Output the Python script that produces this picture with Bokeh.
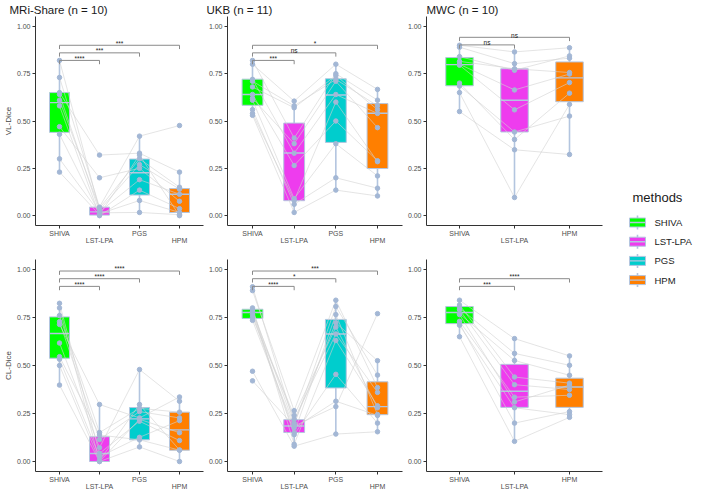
from bokeh.plotting import figure
from bokeh.layouts import row, column
from bokeh.models import Range1d, FixedTicker, LinearAxis, NumeralTickFormatter
from bokeh.core.properties import value
from bokeh.embed import file_html
from bokeh.resources import INLINE

# ---------------- data ----------------
methods = ["SHIVA", "LST-LPA", "PGS", "HPM"]
method_colors = ["#00FF00", "#EE3CEE", "#00CDCD", "#FF7F00"]
methods_mwc = ["SHIVA", "LST-LPA", "HPM"]

panel_titles = ["MRi-Share (n = 10)", "UKB (n = 11)", "MWC (n = 10)"]
row_labels = ["VL-Dice", "CL-Dice"]
legend_title = "methods"
y_ticks = [0.0, 0.25, 0.5, 0.75, 1.0]

# MRi-Share, VL-Dice (one value per subject, same order in every list)
mri_vl_shiva = [0.82, 0.73, 0.65, 0.64, 0.61, 0.58, 0.47, 0.43, 0.30, 0.23]
mri_vl_lst = [0.03, 0.045, 0.32, 0.02, 0.04, 0.0, 0.20, 0.01, 0.015, 0.005]
mri_vl_pgs = [0.27, 0.42, 0.33, 0.19, 0.30, 0.135, 0.25, 0.08, 0.017, 0.32]
mri_vl_hpm = [0.14, 0.476, 0.23, 0.113, 0.15, 0.037, 0.076, 0.017, 0.005, 0.0]
# box stats: [lower whisker, q1, median, q3, upper whisker]
mri_vl_box = [[0.23, 0.44, 0.597, 0.65, 0.82], [0.0, 0.003, 0.02, 0.045, 0.045],
              [0.017, 0.109, 0.227, 0.299, 0.42], [0.0, 0.017, 0.113, 0.143, 0.23]]
mri_vl_sig = ["****", "***", "***"]

# UKB, VL-Dice
ukb_vl_shiva = [0.82, 0.80, 0.72, 0.71, 0.68, 0.64, 0.62, 0.61, 0.56, 0.54, 0.53]
ukb_vl_lst = [0.41, 0.605, 0.33, 0.58, 0.57, 0.265, 0.38, 0.09, 0.06, 0.08, 0.017]
ukb_vl_pgs = [0.75, 0.80, 0.64, 0.72, 0.74, 0.50, 0.71, 0.38, 0.20, 0.60, 0.135]
ukb_vl_hpm = [0.61, 0.667, 0.54, 0.58, 0.56, 0.29, 0.465, 0.21, 0.145, 0.285, 0.104]
ukb_vl_box = [[0.53, 0.583, 0.64, 0.721, 0.82], [0.017, 0.079, 0.331, 0.489, 0.605],
              [0.135, 0.387, 0.637, 0.723, 0.80], [0.104, 0.249, 0.541, 0.592, 0.667]]
ukb_vl_sig = ["***", "ns", "*"]

# MWC, VL-Dice
mwc_vl_shiva = [0.90, 0.89, 0.84, 0.815, 0.80, 0.795, 0.70, 0.685, 0.65, 0.55]
mwc_vl_lst = [0.865, 0.803, 0.768, 0.776, 0.664, 0.559, 0.402, 0.442, 0.096, 0.348]
mwc_vl_hpm = [0.887, 0.832, 0.844, 0.756, 0.748, 0.703, 0.647, 0.526, 0.588, 0.323]
mwc_vl_box = [[0.55, 0.686, 0.798, 0.835, 0.90], [0.096, 0.442, 0.61, 0.776, 0.865],
              [0.323, 0.602, 0.728, 0.812, 0.887]]
mwc_vl_sig = ["ns", "ns"]

# MRi-Share, CL-Dice
mri_cl_shiva = [0.824, 0.80, 0.76, 0.728, 0.714, 0.617, 0.546, 0.533, 0.50, 0.398]
mri_cl_lst = [0.042, 0.0, 0.151, 0.114, 0.297, 0.072, 0.138, 0.025, 0.005, 0.0]
mri_cl_pgs = [0.21, 0.076, 0.277, 0.26, 0.227, 0.479, 0.113, 0.126, 0.297, 0.22]
mri_cl_hpm = [0.109, 0.0, 0.257, 0.227, 0.336, 0.314, 0.059, 0.213, 0.06, 0.15]
mri_cl_box = [[0.398, 0.538, 0.667, 0.753, 0.824], [0.0, 0.0, 0.042, 0.129, 0.297],
              [0.076, 0.113, 0.222, 0.281, 0.479], [0.0, 0.059, 0.165, 0.257, 0.336]]
mri_cl_sig = ["****", "****", "****"]

# UKB, CL-Dice
ukb_cl_shiva = [0.91, 0.89, 0.80, 0.79, 0.78, 0.775, 0.765, 0.75, 0.735, 0.47, 0.42]
ukb_cl_lst = [0.20, 0.265, 0.09, 0.19, 0.22, 0.15, 0.14, 0.24, 0.175, 0.08, 0.185]
ukb_cl_pgs = [0.723, 0.84, 0.63, 0.807, 0.664, 0.765, 0.454, 0.70, 0.314, 0.143, 0.286]
ukb_cl_hpm = [0.525, 0.385, 0.29, 0.45, 0.36, 0.245, 0.2, 0.28, 0.24, 0.155, 0.77]
ukb_cl_box = [[0.735, 0.745, 0.776, 0.793, 0.80], [0.079, 0.151, 0.185, 0.218, 0.264],
              [0.143, 0.383, 0.664, 0.74, 0.84], [0.155, 0.244, 0.286, 0.415, 0.524]]
ukb_cl_sig = ["****", "*", "***"]

# MWC, CL-Dice
mwc_cl_shiva = [0.84, 0.815, 0.80, 0.79, 0.77, 0.765, 0.73, 0.72, 0.71, 0.65]
mwc_cl_lst = [0.64, 0.44, 0.563, 0.40, 0.526, 0.31, 0.335, 0.20, 0.28, 0.105]
mwc_cl_hpm = [0.55, 0.408, 0.501, 0.375, 0.449, 0.398, 0.345, 0.26, 0.244, 0.23]
mwc_cl_box = [[0.652, 0.718, 0.776, 0.807, 0.84], [0.104, 0.282, 0.366, 0.506, 0.644],
              [0.23, 0.282, 0.388, 0.434, 0.551]]
mwc_cl_sig = ["***", "****"]

# ---------------- style / layout ----------------
FONT = "Liberation Sans"
POINT_COLOR = "#A3B7D5"
BOX_LINE = "#B3C5DF"
PAIR_LINE = "#D2D2D2"
BRACKET = "#8A8A8A"
AXIS_COLOR = "#333333"
TICK_TEXT = "#4D4D4D"
ROW_H = 246
BOX_W = 0.5
BRACKET_STEP = 0.04
TIP = 0.02


def make_panel(title, ylabel, names, series, boxes, sigs, bracket_base,
               width, left, title_offset):
    n_m = len(names)
    xs = list(range(1, n_m + 1))
    colors = [method_colors[methods.index(m)] for m in names]
    p = figure(width=width, height=ROW_H, title=title,
               x_range=Range1d(0.4, n_m + 0.6), y_range=Range1d(-0.052, 1.052),
               output_backend="svg", toolbar_location=None,
               min_border_left=left, min_border_right=2, min_border_top=13,
               min_border_bottom=0)
    p.title.align = "left"
    p.title.offset = title_offset
    p.title.standoff = 2
    p.title.text_font = FONT
    p.title.text_font_size = "11.5px"
    p.title.text_font_style = "normal"
    p.title.text_color = "#1A1A1A"
    p.outline_line_color = None
    p.xgrid.visible = False
    p.ygrid.visible = False

    # y axis
    yax = p.yaxis[0]
    yax.ticker = FixedTicker(ticks=y_ticks)
    yax.formatter = NumeralTickFormatter(format="0.00")
    yax.major_tick_in = 0
    yax.major_tick_out = 3
    yax.major_label_standoff = 2
    yax.major_label_text_font = FONT
    yax.major_label_text_font_size = "7px"
    yax.major_label_text_color = TICK_TEXT
    yax.axis_line_color = AXIS_COLOR
    yax.major_tick_line_color = AXIS_COLOR
    if ylabel:
        yax.axis_label = ylabel
        yax.axis_label_text_font = FONT
        yax.axis_label_text_font_size = "8px"
        yax.axis_label_text_font_style = "normal"
        yax.axis_label_standoff = 1

    # x axis, labels dodged over two lines
    xax = p.xaxis[0]
    xax.ticker = FixedTicker(ticks=xs)
    xax.major_label_overrides = {x: (names[i] if i % 2 == 0 else "") for i, x in enumerate(xs)}
    xax.major_tick_in = 0
    xax.major_tick_out = 3
    xax.major_label_standoff = 1
    xax.major_label_text_font = FONT
    xax.major_label_text_font_size = "7px"
    xax.major_label_text_color = TICK_TEXT
    xax.axis_line_color = AXIS_COLOR
    xax.major_tick_line_color = AXIS_COLOR
    odd = [x for i, x in enumerate(xs) if i % 2 == 1]
    ax2 = LinearAxis(ticker=FixedTicker(ticks=odd),
                     major_label_overrides={x: names[x - 1] for x in odd},
                     axis_line_color=None, major_tick_line_color=None,
                     major_tick_in=0, major_tick_out=0, major_label_standoff=-3,
                     major_label_text_font=FONT, major_label_text_font_size="7px",
                     major_label_text_color=TICK_TEXT)
    p.add_layout(ax2, "below")

    # whiskers
    p.segment(x0=xs, x1=xs, y0=[b[0] for b in boxes], y1=[b[4] for b in boxes],
              line_color=BOX_LINE, line_width=1.6)
    # boxes
    p.vbar(x=xs, bottom=[b[1] for b in boxes], top=[b[3] for b in boxes], width=BOX_W,
           fill_color=colors, line_color=BOX_LINE, line_width=1)
    # medians
    p.segment(x0=[x - BOX_W / 2 for x in xs], x1=[x + BOX_W / 2 for x in xs],
              y0=[b[2] for b in boxes], y1=[b[2] for b in boxes],
              line_color=BOX_LINE, line_width=1.4)
    # paired lines
    n = len(series[0])
    p.multi_line(xs=[xs] * n, ys=[[s[i] for s in series] for i in range(n)],
                 line_color=PAIR_LINE, line_width=0.6)
    # points
    px, py = [], []
    for x, s in zip(xs, series):
        px += [x] * len(s)
        py += list(s)
    p.scatter(px, py, size=4.5, fill_color=POINT_COLOR, line_color=POINT_COLOR)

    # significance brackets (SHIVA vs each other method)
    bx0, bx1, by0, by1 = [], [], [], []
    tx, ty = [], []
    for k, sig in enumerate(sigs):
        xe = xs[k + 1]
        yb = bracket_base + k * BRACKET_STEP
        bx0 += [xs[0], xs[0], xe]
        bx1 += [xe, xs[0], xe]
        by0 += [yb, yb, yb]
        by1 += [yb, yb - TIP, yb - TIP]
        tx.append((xs[0] + xe) / 2)
        ty.append(yb + 0.012)
    p.segment(x0=bx0, x1=bx1, y0=by0, y1=by1, line_color=BRACKET, line_width=1)
    p.text(x=tx, y=ty, text=sigs, text_font=value(FONT), text_font_size="6.5px",
           text_align="center", text_baseline="alphabetic", text_color="#1A1A1A")
    return p


W1, W2, W3 = 205, 199, 200
f1 = make_panel(panel_titles[0], row_labels[0], methods,
                [mri_vl_shiva, mri_vl_lst, mri_vl_pgs, mri_vl_hpm], mri_vl_box, mri_vl_sig,
                0.82, W1, 28, -26)
f2 = make_panel(panel_titles[1], None, methods,
                [ukb_vl_shiva, ukb_vl_lst, ukb_vl_pgs, ukb_vl_hpm], ukb_vl_box, ukb_vl_sig,
                0.82, W2, 22, -21)
f3 = make_panel(panel_titles[2], None, methods_mwc,
                [mwc_vl_shiva, mwc_vl_lst, mwc_vl_hpm], mwc_vl_box, mwc_vl_sig,
                0.902, W3, 22, 0)
f4 = make_panel("", row_labels[1], methods,
                [mri_cl_shiva, mri_cl_lst, mri_cl_pgs, mri_cl_hpm], mri_cl_box, mri_cl_sig,
                0.912, W1, 28, -26)
f5 = make_panel("", None, methods,
                [ukb_cl_shiva, ukb_cl_lst, ukb_cl_pgs, ukb_cl_hpm], ukb_cl_box, ukb_cl_sig,
                0.912, W2, 22, -21)
f6 = make_panel("", None, methods_mwc,
                [mwc_cl_shiva, mwc_cl_lst, mwc_cl_hpm], mwc_cl_box, mwc_cl_sig,
                0.912, W3, 22, 0)

# ---------------- legend panel ----------------
LEG_W, LEG_H = 693 - (W1 + W2 + W3), 2 * ROW_H
leg = figure(width=LEG_W, height=LEG_H, x_range=Range1d(0, LEG_W), y_range=Range1d(LEG_H, 0),
             output_backend="svg", toolbar_location=None, x_axis_location=None,
             y_axis_location=None, min_border=0)
leg.outline_line_color = None
leg.xgrid.visible = False
leg.ygrid.visible = False
key_x, lab_x, first_y, step = 33, 50, 222, 19.2
ky = [first_y + i * step for i in range(len(methods))]
leg.text(x=[key_x - 5], y=[first_y - 25], text=[legend_title], text_font=value(FONT),
         text_font_size="13px", text_baseline="middle", text_color="#1A1A1A")
leg.segment(x0=[key_x] * 4, x1=[key_x] * 4, y0=[y - 7 for y in ky], y1=[y + 7 for y in ky],
            line_color=BOX_LINE, line_width=1.6)
leg.rect(x=[key_x] * 4, y=ky, width=16, height=9, fill_color=method_colors,
         line_color=BOX_LINE, line_width=1)
leg.segment(x0=[key_x - 8] * 4, x1=[key_x + 8] * 4, y0=ky, y1=ky,
            line_color=BOX_LINE, line_width=1.4)
leg.text(x=[lab_x] * 4, y=ky, text=methods, text_font=value(FONT), text_font_size="9.5px",
         text_baseline="middle", text_color="#1A1A1A")

layout = row(column(row(f1, f2, f3), row(f4, f5, f6)), leg)
open("out.html", "w").write(file_html(layout, INLINE))
